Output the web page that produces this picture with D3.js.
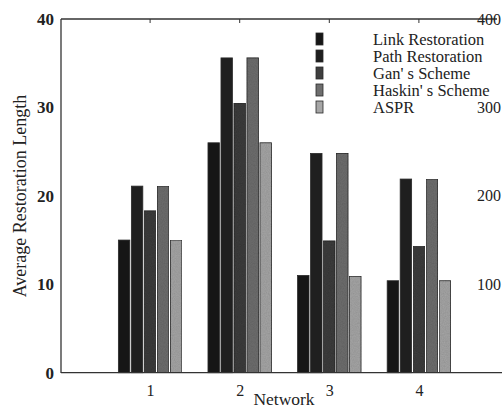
<!DOCTYPE html>
<html>
<head>
<meta charset="utf-8">
<script src="https://cdn.jsdelivr.net/npm/d3@7"></script>
<style>
  html, body { margin: 0; padding: 0; background: #fff; }
  svg { display: block; }
</style>
</head>
<body>
<svg id="chart" width="502" height="412"></svg>
<script>
const categories = ["1", "2", "3", "4"];
const seriesNames = ["Link Restoration", "Path Restoration", "Gan' s Scheme", "Haskin' s Scheme", "ASPR"];
const linkRestoration = [15.0, 26.0, 11.0, 10.4];
const pathRestoration = [21.1, 35.6, 24.8, 21.9];
const gansScheme      = [18.3, 30.5, 14.9, 14.3];
const haskinsScheme   = [21.1, 35.6, 24.8, 21.9];
const aspr            = [15.0, 26.0, 10.9, 10.4];
const leftTicks = [0, 10, 20, 30, 40];
const rightTicks = [100, 200, 300, 400];

const seriesValues = [linkRestoration, pathRestoration, gansScheme, haskinsScheme, aspr];
const colors = ["#161616", "#1f1f1f", "#3e3e3e", "#6e6e6e", "#a6a6a6"];

const svg = d3.select("#chart");
const serif = "'Liberation Serif', 'Times New Roman', serif";

const y = d3.scaleLinear().domain([0, 40]).range([372.7, 19]);
const yR = d3.scaleLinear().domain([0, 400]).range([372.7, 19]);
const x = d3.scaleLinear().domain([0, 5]).range([60.5, 508.5]);
const sub = d3.scaleBand().domain(d3.range(5)).range([-32.5, 32.5]).paddingInner(0.12).paddingOuter(0.06);

// noise texture filter
const defs = svg.append("defs");
const f = defs.append("filter").attr("id", "grain").attr("x", 0).attr("y", 0).attr("width", 1).attr("height", 1);
f.append("feTurbulence").attr("type", "fractalNoise").attr("baseFrequency", 0.9).attr("numOctaves", 2).attr("seed", 3).attr("result", "n");
f.append("feColorMatrix").attr("in", "n").attr("type", "matrix")
  .attr("values", "0 0 0 0 0  0 0 0 0 0  0 0 0 0 0  0 0 0 0.25 0").attr("result", "na");
f.append("feComposite").attr("in", "na").attr("in2", "SourceGraphic").attr("operator", "in").attr("result", "nc");
f.append("feMerge").selectAll("feMergeNode").data(["SourceGraphic", "nc"]).join("feMergeNode").attr("in", d => d);

// bars
const groups = svg.append("g").selectAll("g")
  .data(categories.map((c, i) => ({ c, i })))
  .join("g")
  .attr("transform", d => `translate(${x(d.i + 1)},0)`);

groups.selectAll("rect")
  .data(d => seriesValues.map((vals, s) => ({ s, v: vals[d.i] })))
  .join("rect")
  .attr("x", d => sub(d.s))
  .attr("width", sub.bandwidth())
  .attr("y", d => y(d.v))
  .attr("height", d => y(0) - y(d.v))
  .attr("fill", d => colors[d.s])
  .attr("stroke", "#2a2a2a")
  .attr("stroke-width", 0.8)
  .attr("filter", d => d.s >= 2 ? "url(#grain)" : null);

// frame lines
const axisColor = "#333";
svg.append("line").attr("x1", 61).attr("x2", 61).attr("y1", 19).attr("y2", 373)
  .attr("stroke", axisColor).attr("stroke-width", 1.3);
svg.append("line").attr("x1", 61).attr("x2", 497).attr("y1", 19).attr("y2", 19)
  .attr("stroke", axisColor).attr("stroke-width", 1.3);
svg.append("line").attr("x1", 61).attr("x2", 502).attr("y1", 372.7).attr("y2", 372.7)
  .attr("stroke", axisColor).attr("stroke-width", 1.3);

// top ticks
svg.append("g").selectAll("line").data(categories).join("line")
  .attr("x1", (d, i) => x(i + 1)).attr("x2", (d, i) => x(i + 1))
  .attr("y1", 19).attr("y2", 23).attr("stroke", axisColor).attr("stroke-width", 1);

// bottom axis labels
const xAxis = d3.axisBottom(x).tickValues(categories.map((c, i) => i + 1))
  .tickFormat((d, i) => categories[i]).tickSize(0).tickPadding(12);
const gx = svg.append("g").attr("transform", "translate(0,372.7)").call(xAxis);
gx.select(".domain").remove();
gx.selectAll("text").attr("font-family", serif).attr("font-size", 16).attr("fill", "#222");

// left axis labels
const yAxis = d3.axisLeft(y).tickValues(leftTicks).tickSize(0).tickPadding(7);
const gy = svg.append("g").attr("transform", "translate(61,0)").call(yAxis);
gy.select(".domain").remove();
gy.selectAll("text").attr("font-family", serif).attr("font-size", 17).attr("font-weight", "bold").attr("fill", "#222");

// right axis labels
const yAxisR = d3.axisLeft(yR).tickValues(rightTicks).tickSize(0).tickPadding(0);
const gyr = svg.append("g").attr("transform", "translate(501,0)").call(yAxisR);
gyr.select(".domain").remove();
gyr.selectAll("text").attr("font-family", serif).attr("font-size", 16).attr("fill", "#222");

// axis titles
svg.append("text").attr("x", 284).attr("y", 405).attr("text-anchor", "middle")
  .attr("font-family", serif).attr("font-size", 17.5).attr("fill", "#222").text("Network");
svg.append("text").attr("transform", "translate(26,196) rotate(-90)").attr("text-anchor", "middle")
  .attr("font-family", serif).attr("font-size", 18).attr("fill", "#222").text("Average Restoration Length");

// legend
const legend = svg.append("g").selectAll("g").data(seriesNames).join("g")
  .attr("transform", (d, i) => `translate(0,${39 + i * 17})`);
legend.append("rect").attr("x", 316).attr("y", -6).attr("width", 7).attr("height", 12)
  .attr("fill", (d, i) => colors[i]).attr("stroke", "#2a2a2a").attr("stroke-width", 0.8);
legend.append("text").attr("x", 373).attr("y", 5.5)
  .attr("font-family", serif).attr("font-size", 16.5).attr("fill", "#222").text(d => d);
</script>
</body>
</html>
